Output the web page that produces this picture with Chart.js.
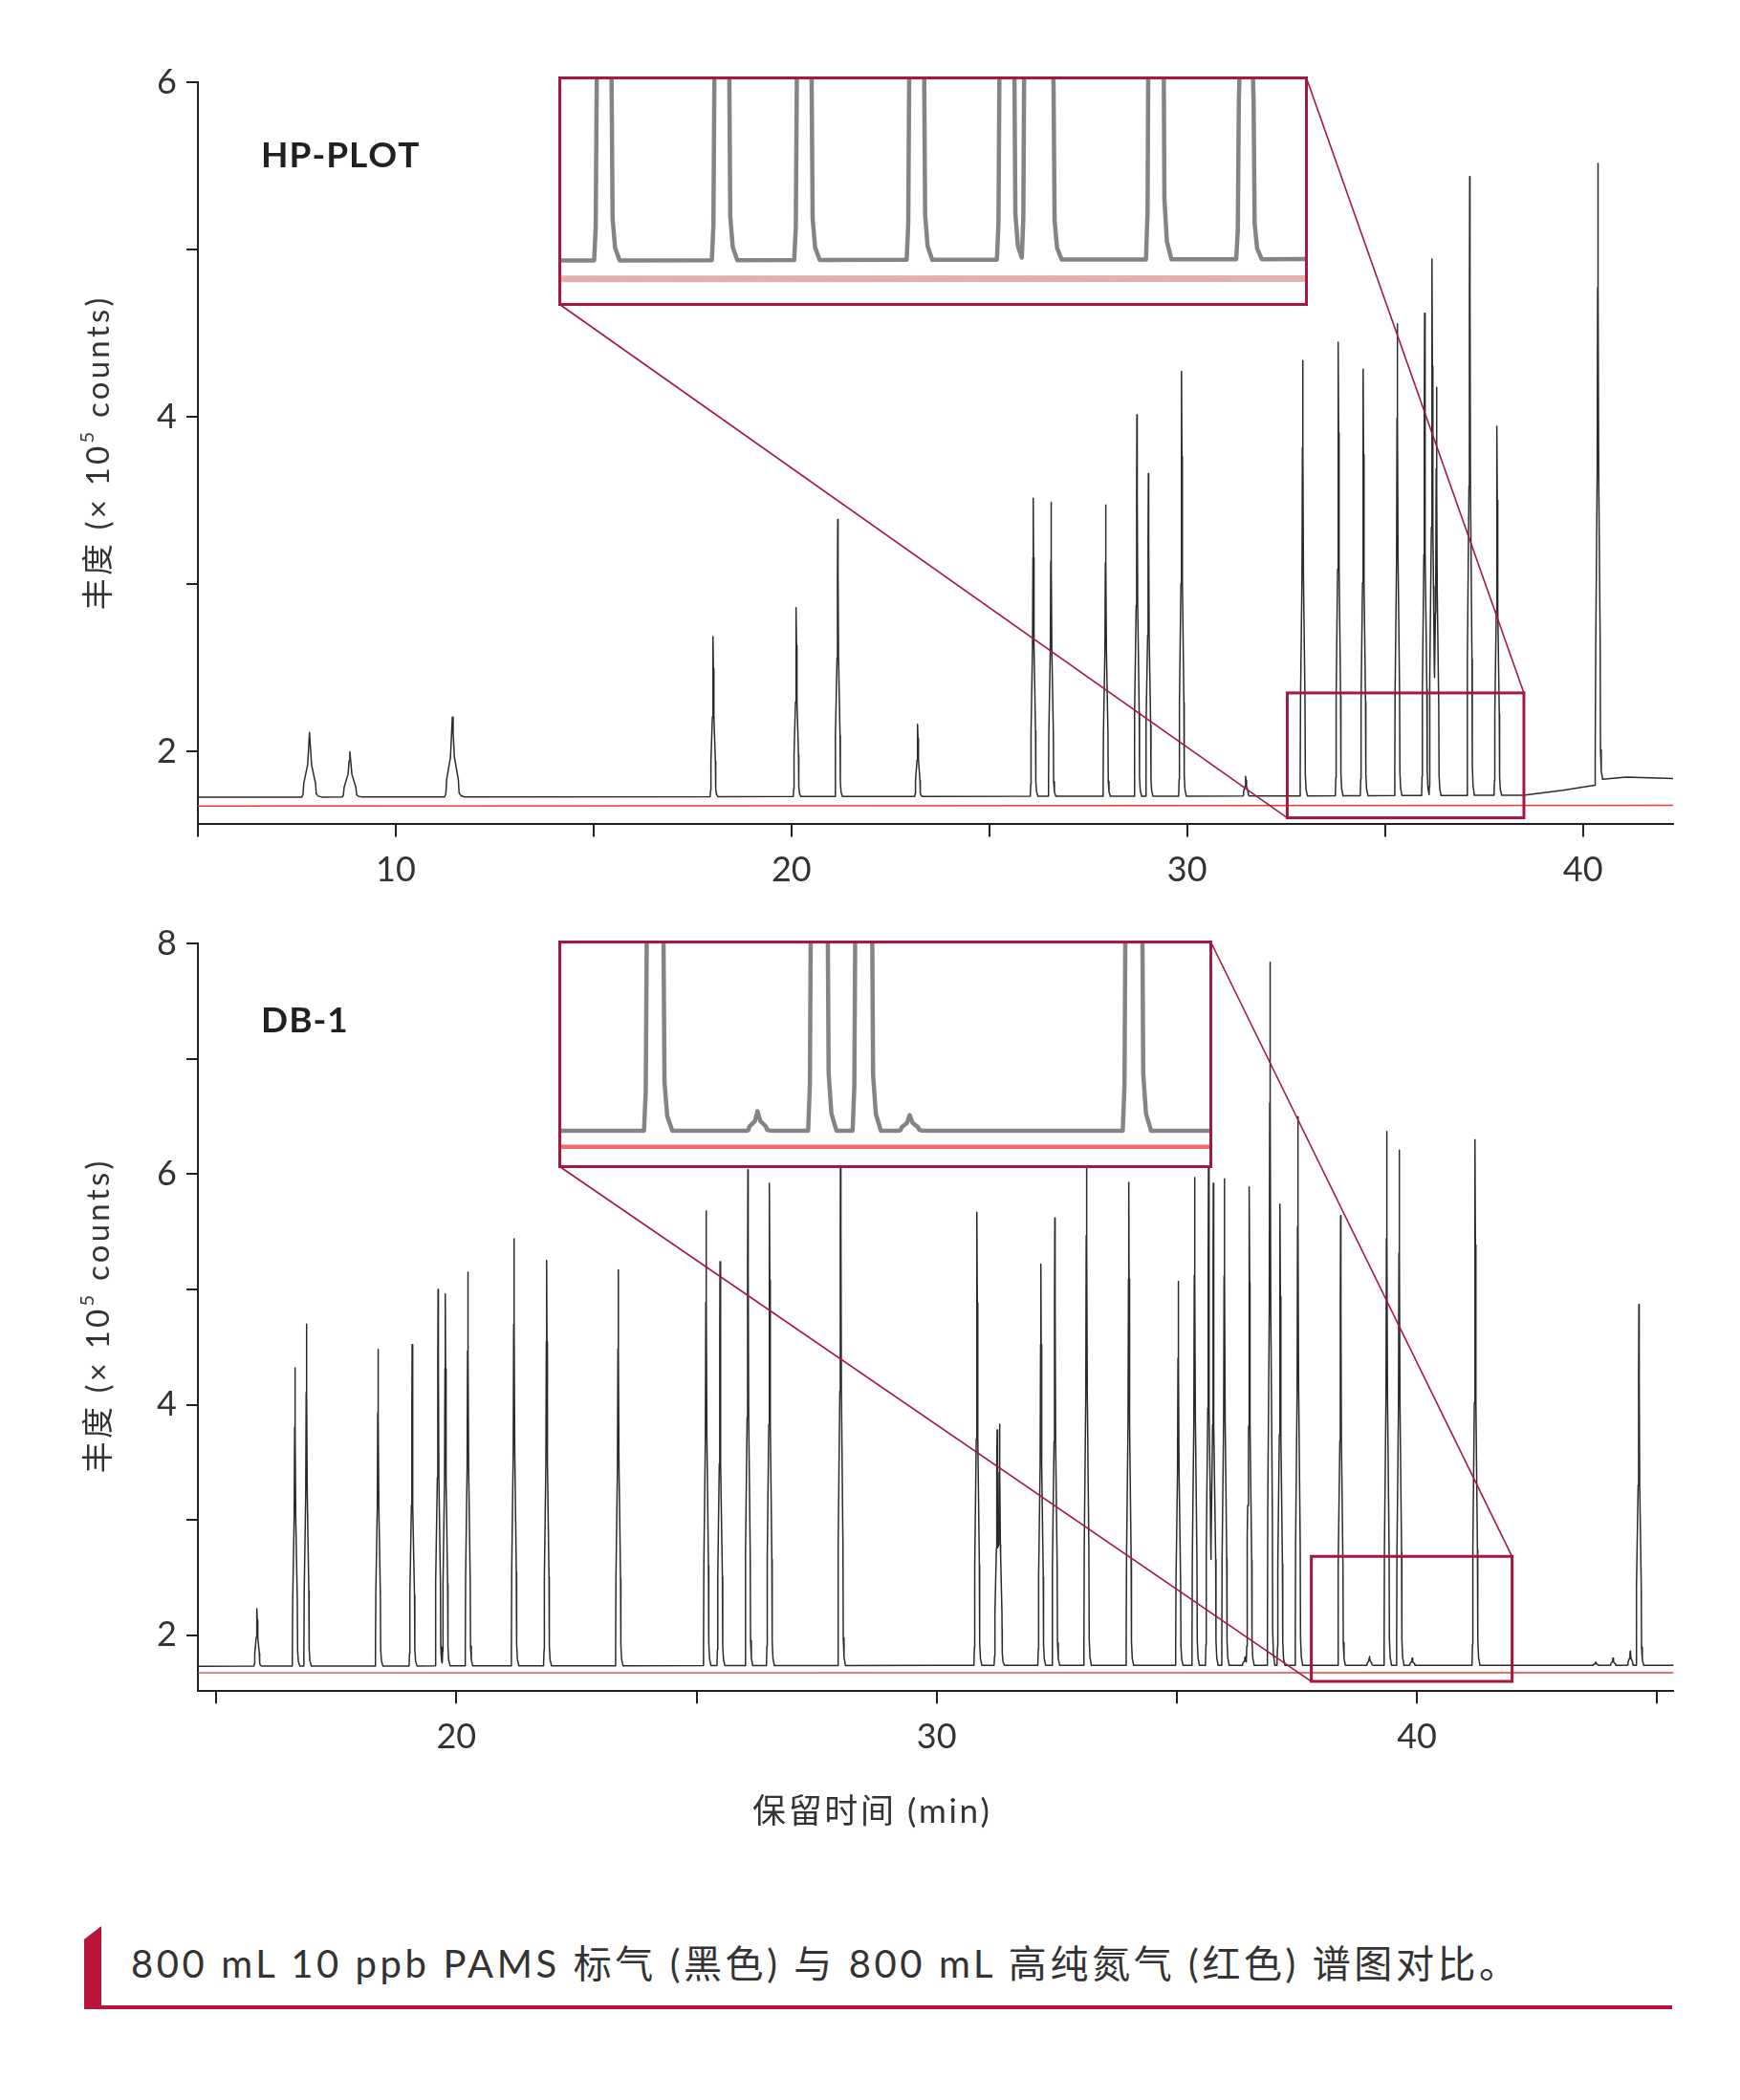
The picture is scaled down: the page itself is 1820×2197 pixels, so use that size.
<!DOCTYPE html>
<html>
<head>
<meta charset="utf-8">
<script src="https://cdn.jsdelivr.net/npm/chart.js@4.4.1/dist/chart.umd.min.js"></script>
<style>
  body { margin: 0; background: #fff; }
  #page { position: relative; width: 1820px; height: 2197px; overflow: hidden; background: #fff; }
  canvas { position: absolute; }
  #capBar { position: absolute; left: 88px; top: 2015px; width: 18px; height: 87px; background: #b8153a;
            clip-path: polygon(0 14px, 100% 0, 100% 100%, 0 100%); }
  #capLine { position: absolute; left: 88px; top: 2098px; width: 1661px; height: 4px; background: #b8153a; }
  #caption { position: absolute; left: 137px; top: 2030px; font-size: 40px; line-height: 48px; color: #333;
             letter-spacing: 3.6px; font-family: Lato, 'Noto Sans CJK SC', sans-serif; white-space: nowrap; }
</style>
</head>
<body>
<div id="page">
  <canvas id="hpChart" width="1820" height="940" style="left:0;top:0"></canvas>
  <canvas id="dbChart" width="1820" height="1000" style="left:0;top:940px"></canvas>
  <canvas id="hpZoom" width="784" height="240" style="left:584px;top:80px"></canvas>
  <canvas id="dbZoom" width="684" height="238" style="left:584px;top:984px"></canvas>
  <div id="capBar"></div>
  <div id="capLine"></div>
  <div id="caption">800 mL 10 ppb PAMS 标气 (黑色) 与 800 mL 高纯氮气 (红色) 谱图对比。</div>
</div>
<script>
var FONT = "Lato, 'Noto Sans CJK SC', sans-serif";
var INK = '#333333';
var AXIS = '#231f20';
var FRAME = '#a8173d';

// HP-PLOT column: retention time (min) and peak apex (x 10^5 counts)
var hpTimes   = [7.82, 8.84, 11.43, 18.02, 20.12, 21.17, 23.19, 26.11, 26.56, 27.94, 28.73, 29.02,
                 29.86, 31.48, 32.92, 33.82, 34.45, 35.31, 36.00, 36.19, 36.30, 37.14, 37.83, 40.38];
var hpHeights = [2.115, 2.00, 2.206, 2.688, 2.86, 3.387, 2.164, 3.515, 3.49, 3.475, 4.013, 3.662,
                 4.272, 1.852, 4.337, 4.446, 4.285, 4.557, 4.62, 4.944, 4.177, 5.436, 3.944, 5.514];
var hpBaseTimes   = [5, 32, 38.5, 39.5, 40.3, 40.5, 41.1, 42.3];
var hpBaseLevels  = [1.728, 1.735, 1.74, 1.77, 1.80, 1.835, 1.848, 1.84];
var hpBlankTimes  = [5, 42.3];
var hpBlankLevels = [1.675, 1.68];
var hpXLabels = [10, 20, 30, 40];
var hpYLabels = [2, 4, 6];

// DB-1 column
var dbTimes   = [15.85, 16.64, 16.88, 18.37, 19.08, 19.62, 19.77, 20.24, 21.20, 21.88, 23.37, 25.20,
                 25.49, 26.07, 26.52, 28.00, 30.84, 31.26, 31.31, 32.17, 32.46, 33.12, 34.00, 35.03,
                 35.37, 35.66, 35.76, 35.99, 36.42, 36.51, 36.94, 37.15, 37.52, 38.41, 39.01, 39.37,
                 39.63, 39.90, 41.21, 43.72, 44.08, 44.44, 44.62];
var dbHeights = [2.23, 4.32, 4.70, 4.48, 4.52, 5.00, 4.96, 5.15, 5.44, 5.25, 5.17, 5.68,
                 5.24, 6.04, 5.92, 6.50, 5.67, 3.78, 3.83, 5.22, 5.62, 6.40, 5.93, 5.07,
                 5.97, 6.20, 5.92, 5.96, 1.81, 5.89, 7.84, 5.74, 6.50, 5.64, 1.815, 6.37,
                 6.21, 1.80, 6.30, 1.765, 1.80, 1.86, 4.87];
var dbBaseTimes   = [14.6, 30, 45.4];
var dbBaseLevels  = [1.73, 1.737, 1.737];
var dbBlankTimes  = [14.6, 45.4];
var dbBlankLevels = [1.672, 1.673];
var dbXLabels = [20, 30, 40];
var dbYLabels = [2, 4, 6, 8];

// outline of one peak: [offset in min, fraction of peak height]
var PEAK_SHAPE = [[-0.075, 0], [-0.063, 0.04], [-0.055, 0.22], [-0.018, 0.5], [-0.007, 0.8], [0, 1],
                  [0.008, 0.8], [0.02, 0.5], [0.058, 0.22], [0.066, 0.05], [0.085, 0.015], [0.12, 0]];

function levelAt(x, ts, vs) {
  if (x <= ts[0]) return vs[0];
  for (var i = 1; i < ts.length; i++) {
    if (x <= ts[i]) return vs[i - 1] + (vs[i] - vs[i - 1]) * (x - ts[i - 1]) / (ts[i] - ts[i - 1]);
  }
  return vs[vs.length - 1];
}

function shapeAt(d, w) {
  var u = d / w;
  if (u <= PEAK_SHAPE[0][0] || u >= PEAK_SHAPE[PEAK_SHAPE.length - 1][0]) return 0;
  for (var i = 1; i < PEAK_SHAPE.length; i++) {
    var a = PEAK_SHAPE[i - 1], b = PEAK_SHAPE[i];
    if (u <= b[0]) return a[1] + (b[1] - a[1]) * (u - a[0]) / (b[0] - a[0]);
  }
  return 0;
}

// trace = baseline plus the upper envelope of all peaks
function buildTrace(times, heights, baseTimes, baseLevels, width, broadUntil) {
  var widths = times.map(function(t) { return t < broadUntil ? width * 2.6 : width; });
  var xs = baseTimes.slice();
  times.forEach(function(t, i) {
    PEAK_SHAPE.forEach(function(p) { xs.push(t + p[0] * widths[i]); });
  });
  xs.sort(function(a, b) { return a - b; });
  return xs.map(function(x) {
    var top = 0;
    times.forEach(function(t, i) {
      var amp = heights[i] - levelAt(t, baseTimes, baseLevels);
      var v = shapeAt(x - t, widths[i]) * amp;
      if (v > top) top = v;
    });
    return {x: x, y: levelAt(x, baseTimes, baseLevels) + top};
  });
}

function pairs(ts, vs) {
  return ts.map(function(t, i) { return {x: t, y: vs[i]}; });
}

var hpTrace = buildTrace(hpTimes, hpHeights, hpBaseTimes, hpBaseLevels, 1, 15);
var hpBlank = pairs(hpBlankTimes, hpBlankLevels);
var dbTrace = buildTrace(dbTimes, dbHeights, dbBaseTimes, dbBaseLevels, 0.85, 0);
var dbBlank = pairs(dbBlankTimes, dbBlankLevels);

function lineSet(points, color, width) {
  return {data: points, borderColor: color, borderWidth: width, pointRadius: 0,
          tension: 0, fill: false, borderJoinStyle: 'round'};
}

// text drawn glyph by glyph with extra tracking; parts = [text, font, dy]
function spacedWidth(ctx, parts, gap) {
  var w = 0;
  parts.forEach(function(p) {
    ctx.font = p[1];
    Array.from(p[0]).forEach(function(ch) { w += ctx.measureText(ch).width + gap; });
  });
  return w - gap;
}

function drawSpaced(ctx, parts, x, y, gap) {
  parts.forEach(function(p) {
    ctx.font = p[1];
    Array.from(p[0]).forEach(function(ch) {
      ctx.fillText(ch, x, y + p[2]);
      x += ctx.measureText(ch).width + gap;
    });
  });
}

function drawYTitle(ctx, cx, cy) {
  var big = '33px ' + FONT, small = '20px ' + FONT;
  var parts = [['丰度 (× 10', big, 0], ['5', small, -11], [' counts)', big, 0]];
  ctx.save();
  ctx.translate(cx, cy);
  ctx.rotate(-Math.PI / 2);
  ctx.fillStyle = INK;
  ctx.textBaseline = 'middle';
  ctx.textAlign = 'left';
  var total = spacedWidth(ctx, parts, 3.2);
  drawSpaced(ctx, parts, -total / 2, 0, 3.2);
  ctx.restore();
}

// zoom box, connector lines and the texts of a panel
var decorPlugin = {
  id: 'decor',
  afterDatasetsDraw: function(chart, args, o) {
    var ctx = chart.ctx, xs = chart.scales.x, ys = chart.scales.y;
    var x0 = xs.getPixelForValue(o.box[0]), x1 = xs.getPixelForValue(o.box[1]);
    var y0 = ys.getPixelForValue(o.box[3]), y1 = ys.getPixelForValue(o.box[2]);
    ctx.save();
    ctx.strokeStyle = FRAME;
    ctx.lineWidth = 1.6;
    ctx.beginPath();
    ctx.moveTo(o.inset.right, o.inset.top);
    ctx.lineTo(x1, y0);
    ctx.moveTo(o.inset.left, o.inset.bottom);
    ctx.lineTo(x0, y1);
    ctx.stroke();
    ctx.lineWidth = 3;
    ctx.strokeRect(x0, y0, x1 - x0, y1 - y0);

    ctx.fillStyle = AXIS;
    ctx.textBaseline = 'middle';
    ctx.textAlign = 'left';
    drawSpaced(ctx, [[o.label, 'bold 37px ' + FONT, 0]], o.labelX, o.labelY, 1);
    drawYTitle(ctx, o.titleX, o.titleY);
    if (o.xTitle) {
      var parts = [[o.xTitle, '35px ' + FONT, 0]];
      ctx.fillStyle = INK;
      drawSpaced(ctx, parts, o.xTitleX - spacedWidth(ctx, parts, 2.6) / 2, o.xTitleY, 2.6);
    }
    ctx.restore();
  }
};

var framePlugin = {
  id: 'frame',
  beforeDraw: function(chart) {
    var ctx = chart.ctx;
    ctx.save();
    ctx.fillStyle = '#fff';
    ctx.fillRect(0, 0, chart.width, chart.height);
    ctx.restore();
  },
  afterDraw: function(chart) {
    var ctx = chart.ctx;
    ctx.save();
    ctx.strokeStyle = FRAME;
    ctx.lineWidth = 3;
    ctx.strokeRect(1.5, 1.5, chart.width - 3, chart.height - 3);
    ctx.restore();
  }
};

function mainChart(id, cfg) {
  var labelCb = function(list) {
    return function(v) { return list.indexOf(v) >= 0 ? String(v) : ''; };
  };
  return new Chart(document.getElementById(id), {
    type: 'line',
    data: {datasets: [lineSet(cfg.blank, '#e53c3c', 1.4), lineSet(cfg.trace, '#2b2b2b', 1.5)]},
    plugins: [decorPlugin],
    options: {
      responsive: false, animation: false, devicePixelRatio: 1,
      layout: {padding: {left: 0, right: cfg.padRight, top: cfg.padTop, bottom: 0}},
      plugins: {legend: {display: false}, tooltip: {enabled: false}, decor: cfg.decor},
      scales: {
        x: {
          type: 'linear', min: cfg.xMin, max: cfg.xMax,
          afterFit: function(s) { s.height = cfg.xAxisHeight; },
          ticks: {stepSize: 5, includeBounds: false, autoSkip: false, maxRotation: 0, padding: 13,
                  color: INK, font: {family: FONT, size: 36}, callback: labelCb(cfg.xLabels)},
          grid: {drawOnChartArea: false, tickLength: 13, color: AXIS, lineWidth: 2},
          border: {color: AXIS, width: 2}
        },
        y: {
          type: 'linear', min: cfg.yMin, max: cfg.yMax,
          afterFit: function(s) { s.width = 207; },
          ticks: {stepSize: 1, includeBounds: false, autoSkip: false, padding: 10,
                  color: INK, font: {family: FONT, size: 36}, callback: labelCb(cfg.yLabels)},
          grid: {drawOnChartArea: false, tickLength: 12, color: AXIS, lineWidth: 2},
          border: {color: AXIS, width: 2}
        }
      }
    }
  });
}

function zoomChart(id, cfg) {
  return new Chart(document.getElementById(id), {
    type: 'line',
    data: {datasets: [lineSet(cfg.blank, cfg.blankColor, cfg.blankWidth), lineSet(cfg.trace, '#848484', 4.5)]},
    plugins: [framePlugin],
    options: {
      responsive: false, animation: false, devicePixelRatio: 1,
      layout: {padding: 3},
      plugins: {legend: {display: false}, tooltip: {enabled: false}},
      scales: {
        x: {type: 'linear', display: false, min: cfg.xMin, max: cfg.xMax},
        y: {type: 'linear', display: false, min: cfg.yMin, max: cfg.yMax}
      }
    }
  });
}

mainChart('hpChart', {
  trace: hpTrace, blank: hpBlank, xLabels: hpXLabels, yLabels: hpYLabels,
  xMin: 5, xMax: 42.28, yMin: 1.566, yMax: 6,
  padTop: 86, padRight: 70, xAxisHeight: 77.6,
  decor: {box: [32.53, 38.51, 1.605, 2.351], inset: {left: 585.5, top: 81.5, right: 1366.5, bottom: 318.5},
          label: 'HP-PLOT', labelX: 273, labelY: 163, titleX: 103, titleY: 475}
});

mainChart('dbChart', {
  trace: dbTrace, blank: dbBlank, xLabels: dbXLabels, yLabels: dbYLabels,
  xMin: 14.62, xMax: 45.34, yMin: 1.513, yMax: 8,
  padTop: 47.4, padRight: 69.6, xAxisHeight: 170.7,
  decor: {box: [37.80, 41.98, 1.598, 2.683], inset: {left: 585.5, top: 45.5, right: 1266.5, bottom: 280.5},
          label: 'DB-1', labelX: 273, labelY: 128, titleX: 103, titleY: 438,
          xTitle: '保留时间 (min)', xTitleX: 911, xTitleY: 956}
});

zoomChart('hpZoom', {
  trace: hpTrace, blank: hpBlank, blankColor: 'rgba(205,110,110,0.55)', blankWidth: 7,
  xMin: 32.593, xMax: 38.281, yMin: 1.604, yMax: 2.296
});

zoomChart('dbZoom', {
  trace: dbTrace, blank: dbBlank, blankColor: '#f36a6a', blankWidth: 4.5,
  xMin: 37.862, xMax: 41.653, yMin: 1.599, yMax: 2.488
});
</script>
</body>
</html>
